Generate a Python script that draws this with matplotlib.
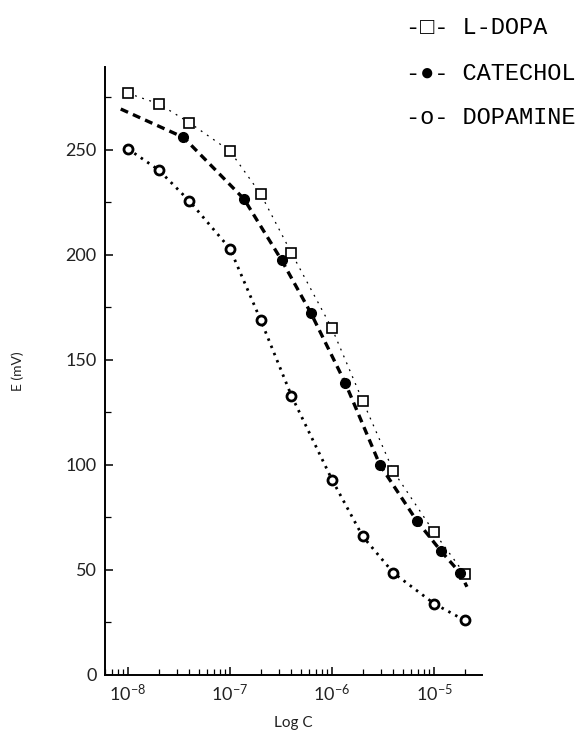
import matplotlib
matplotlib.use("Agg")
import matplotlib.pyplot as plt
from matplotlib.ticker import LogLocator, FixedLocator, NullFormatter, FuncFormatter
import numpy as np

plt.rcParams['font.family'] = ['Lato', 'DejaVu Sans']
plt.rcParams['mathtext.fontset'] = 'custom'
plt.rcParams['mathtext.rm'] = 'Lato'
plt.rcParams['mathtext.it'] = 'Lato'

# concentrations (M) and electrode potential (mV)
ldopa_c = [1e-8, 2e-8, 4e-8, 1e-7, 2e-7, 4e-7, 1e-6, 2e-6, 4e-6, 1e-5, 2e-5]
ldopa_e = [277, 272, 263, 249.5, 229, 201, 165, 130.5, 97, 68, 48]

catechol_c = [8.5e-9, 3.5e-8, 1.37e-7, 3.2e-7, 6.2e-7, 1.35e-6, 2.95e-6, 6.8e-6, 1.17e-5, 1.8e-5, 2.1e-5]
catechol_e = [269.5, 256, 226.7, 197.6, 172.4, 139, 100, 73.3, 59, 48.6, 42]
catechol_marked = list(range(1, 10))

dopamine_c = [1e-8, 2e-8, 4e-8, 1e-7, 2e-7, 4e-7, 1e-6, 2e-6, 4e-6, 1e-5, 2e-5]
dopamine_e = [250.5, 240.5, 225.7, 203, 169, 133, 93, 66, 48.6, 34, 26]

legend_rows = ["-\u25a1- L-DOPA", "-\u25cf- CATECHOL", "-o- DOPAMINE"]

fig = plt.figure(figsize=(5.81, 7.34), dpi=100)
ax = fig.add_axes([0.1807, 0.0804, 0.6489, 0.8283])

ax.plot(ldopa_c, ldopa_e, color='black', lw=0.9, ls=(0, (1.5, 4.5)),
        marker='s', ms=7, mfc='white', mec='black', mew=1.2)
ax.plot(catechol_c, catechol_e, color='black', lw=2.4, ls=(0, (2.4, 1.6)),
        marker='o', ms=7, mfc='black', mec='black', markevery=catechol_marked)
ax.plot(dopamine_c, dopamine_e, color='black', lw=2.0, ls=(0, (0.9, 1.9)),
        marker='o', ms=6.5, mfc='white', mec='black', mew=2.0)

ax.set_xscale('log')
ax.set_xlim(10**-8.225, 10**-4.53)
ax.set_ylim(0, 289.5)

ax.spines['top'].set_visible(False)
ax.spines['right'].set_visible(False)
ax.spines['left'].set_linewidth(1.4)
ax.spines['bottom'].set_linewidth(1.4)

ax.xaxis.set_major_locator(FixedLocator([1e-8, 1e-7, 1e-6, 1e-5]))
ax.xaxis.set_minor_locator(LogLocator(base=10, subs=np.arange(2, 10), numticks=20))
ax.xaxis.set_minor_formatter(NullFormatter())
ax.xaxis.set_major_formatter(FuncFormatter(lambda v, p: r'10$^{%d}$' % round(np.log10(v))))

ax.set_yticks([0, 50, 100, 150, 200, 250])
ax.set_yticks([25, 75, 125, 175, 225, 275], minor=True)

ax.tick_params(axis='both', which='major', direction='in', length=6, width=1.1,
               labelsize=13, pad=6, labelcolor='#222222')
ax.tick_params(axis='both', which='minor', direction='in', length=4, width=0.9)

ax.set_xlabel('Log C', fontsize=11, color='#222222', labelpad=8)
ax.set_ylabel('E (mV)', fontsize=10, color='#222222', labelpad=30)

for i, row in enumerate(legend_rows):
    fig.text(406 / 581, 1 - (28 + 45 * i) / 734, row,
             family=['Liberation Mono', 'DejaVu Sans Mono'], fontsize=17,
             va='center', ha='left')

fig.savefig('out.png', dpi=100, facecolor='white')
